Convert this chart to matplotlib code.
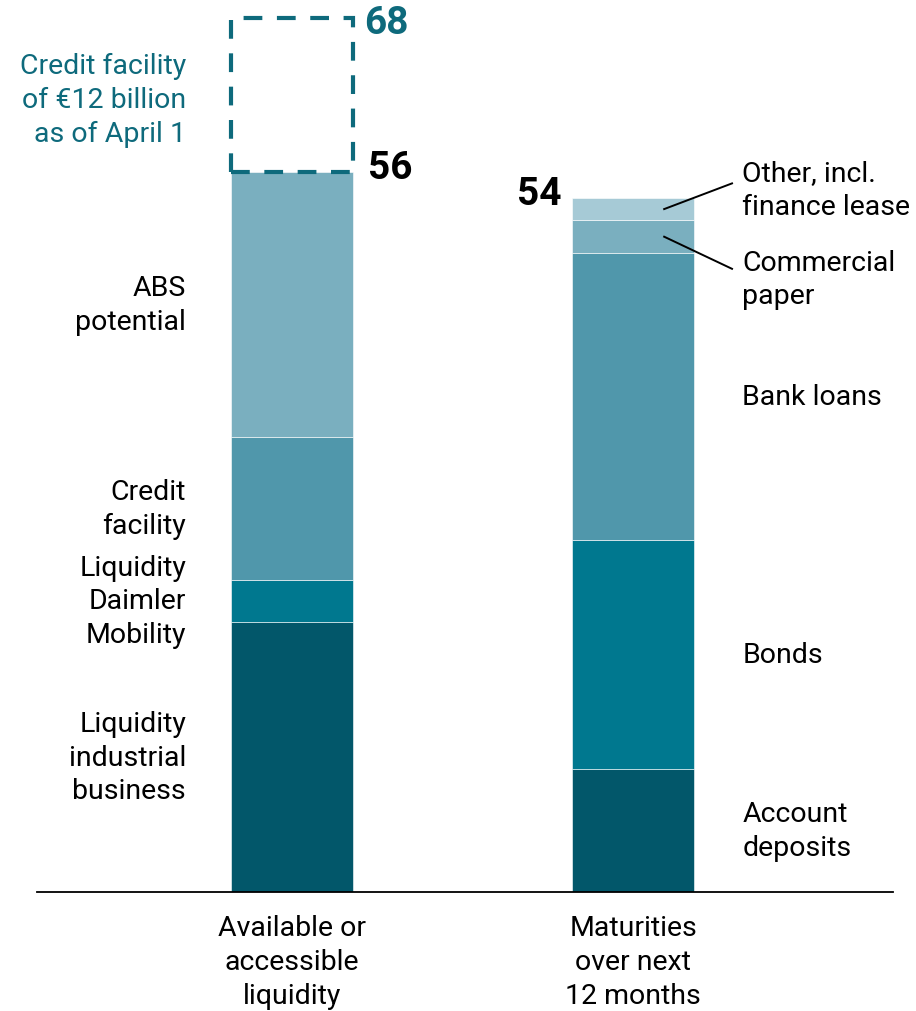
import matplotlib
matplotlib.use("Agg")
import matplotlib.pyplot as plt
from matplotlib.patches import Rectangle

plt.rcParams['font.family'] = ['Roboto', 'DejaVu Sans']

# liquidity vs. maturities, EUR billion
categories = ["Available or\naccessible\nliquidity", "Maturities\nover next\n12 months"]

liq_labels = ["Liquidity\nindustrial\nbusiness", "Liquidity\nDaimler\nMobility",
              "Credit\nfacility", "ABS\npotential"]
liq_values = [21.0, 3.3, 11.1, 20.6]
liq_colors = ["#02576a", "#00788f", "#5097ab", "#7aafbf"]

mat_labels = ["Account\ndeposits", "Bonds", "Bank loans", "Commercial\npaper",
              "Other, incl.\nfinance lease"]
mat_values = [9.6, 17.8, 22.3, 2.6, 1.7]
mat_colors = ["#02576a", "#00788f", "#5097ab", "#7aafbf", "#a6cad6"]

extra_facility = 12
liq_total = 56
mat_total = 54

teal = "#0e6a7c"
bar_w = 0.358
fs = 20.5
ls = 1.32

fig = plt.figure(figsize=(9.16, 10.12), dpi=100)
ax = fig.add_axes([37 / 916, 1 - 893 / 1012, (893 - 37) / 916, 893 / 1012])
ax.set_xlim(-0.748, 1.762)
ax.set_ylim(0, 69.5)
ax.axis("off")
ax.axhline(0, color="black", lw=1.3, clip_on=False)

# left stack with labels on the left side
bottom = 0
for val, lab, col in zip(liq_values, liq_labels, liq_colors):
    ax.bar(0, val, bar_w, bottom=bottom, color=col, edgecolor="white", linewidth=0.4)
    ax.text(-0.311, bottom + val / 2, lab, ha="right", va="center",
            fontsize=fs, linespacing=ls)
    bottom += val

# dashed box for the additional facility
ax.add_patch(Rectangle((-bar_w / 2, liq_total), bar_w, extra_facility, fill=False,
                       edgecolor=teal, lw=3, linestyle=(0, (4.5, 3.5))))
ax.text(-0.311, liq_total + 5.7, "Credit facility\nof €12 billion\nas of April 1",
        ha="right", va="center", fontsize=fs, color=teal, linespacing=ls)
ax.text(0.222, liq_total + 0.4, str(liq_total), ha="left", va="center",
        fontsize=28, fontweight="bold")
ax.text(0.21, liq_total + extra_facility - 0.3, str(liq_total + extra_facility),
        ha="left", va="center", fontsize=28, fontweight="bold", color=teal)

# right stack with labels on the right side
bottom = 0
for i, (val, lab, col) in enumerate(zip(mat_values, mat_labels, mat_colors)):
    ax.bar(1, val, bar_w, bottom=bottom, color=col, edgecolor="white", linewidth=0.4)
    mid = bottom + val / 2
    if i == 3:
        ax.plot([1.091, 1.290], [mid, mid - 2.5], color="black", lw=1.4)
        ax.text(1.320, mid - 3.3, lab, ha="left", va="center", fontsize=fs, linespacing=ls)
    elif i == 4:
        ax.plot([1.091, 1.290], [mid, mid + 2.0], color="black", lw=1.4)
        ax.text(1.320, mid + 1.5, lab, ha="left", va="center", fontsize=fs, linespacing=ls)
    else:
        ax.text(1.320, mid, lab, ha="left", va="center", fontsize=fs, linespacing=ls)
    bottom += val

ax.text(0.79, mat_total + 0.4, str(mat_total), ha="right", va="center",
        fontsize=28, fontweight="bold")

for x, cat in zip([0, 1], categories):
    ax.text(x, -1.75, cat, ha="center", va="top", fontsize=fs, linespacing=ls)

fig.savefig("out.png", dpi=100)
